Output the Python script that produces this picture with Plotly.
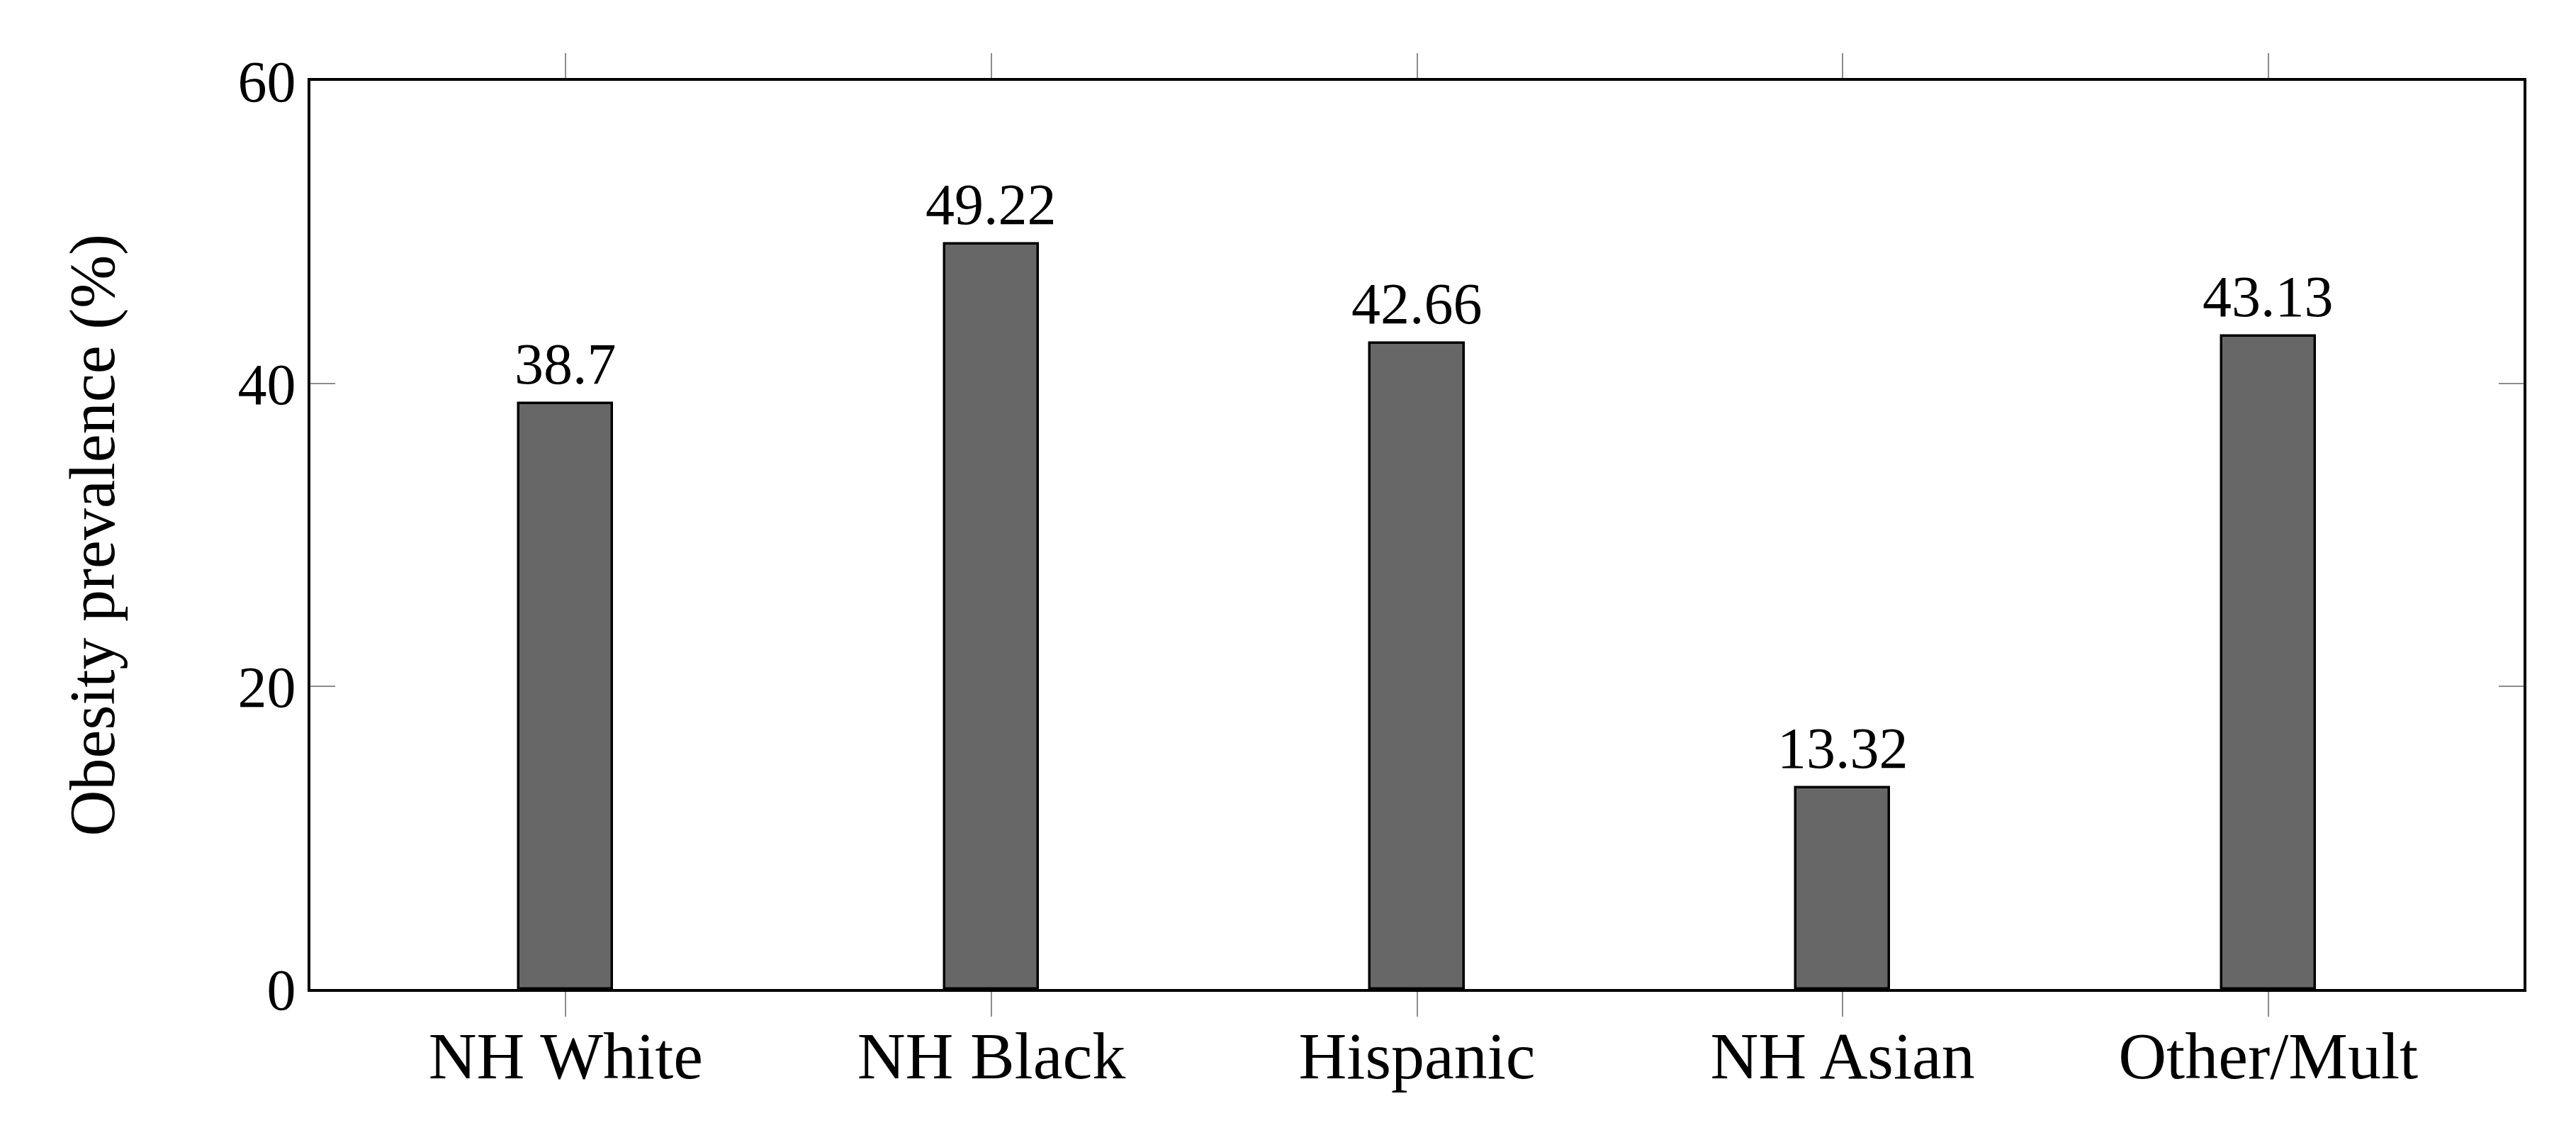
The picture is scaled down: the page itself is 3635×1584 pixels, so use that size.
import plotly.graph_objects as go

categories = ["NH White", "NH Black", "Hispanic", "NH Asian", "Other/Mult"]
values = [38.7, 49.22, 42.66, 13.32, 43.13]
value_labels = ["38.7", "49.22", "42.66", "13.32", "43.13"]
y_ticks = [0, 20, 40, 60]
y_title = "Obesity prevalence (%)"

W, H = 3635, 1584
L, R, T, B = 430, 82, 106, 197
FONT = "Liberation Serif"

x_idx = list(range(len(categories)))

fig = go.Figure()
fig.add_trace(go.Bar(
    x=x_idx, y=values, width=0.22,
    marker=dict(color="#676767", line=dict(color="black", width=3.5)),
    showlegend=False, hoverinfo="skip",
))

for xi, v, lab in zip(x_idx, values, value_labels):
    fig.add_annotation(x=xi, y=v, xref="x", yref="y", text=lab, showarrow=False,
                       yanchor="bottom", yshift=8,
                       font=dict(family=FONT, size=82, color="black"))

fig.add_annotation(x=(122 - L) / (W - L - R), y=0.5, xref="paper", yref="paper",
                   text=y_title, textangle=-90, showarrow=False,
                   xanchor="center", yanchor="middle",
                   font=dict(family=FONT, size=90, color="black"))

fig.update_layout(
    width=W, height=H,
    margin=dict(l=L, r=R, t=T, b=B, autoexpand=False),
    paper_bgcolor="white", plot_bgcolor="white",
    font=dict(family=FONT, color="black"),
    bargap=0,
)
fig.update_xaxes(
    range=[-0.6, 4.6], tickmode="array", tickvals=x_idx, ticktext=categories,
    showgrid=False, zeroline=False,
    showline=True, linecolor="black", linewidth=4, mirror="ticks",
    ticks="outside", ticklen=35, tickwidth=2, tickcolor="#8c8c8c",
    ticklabelstandoff=-26,
    tickfont=dict(family=FONT, size=94, color="black"),
)
fig.update_yaxes(
    range=[0, 60], tickmode="array", tickvals=y_ticks, ticktext=[str(t) for t in y_ticks],
    showgrid=False, zeroline=False,
    showline=True, linecolor="black", linewidth=4, mirror="ticks",
    ticks="inside", ticklen=35, tickwidth=2, tickcolor="#8c8c8c",
    tickfont=dict(family=FONT, size=82, color="black"),
)

fig.write_html("out.html")
